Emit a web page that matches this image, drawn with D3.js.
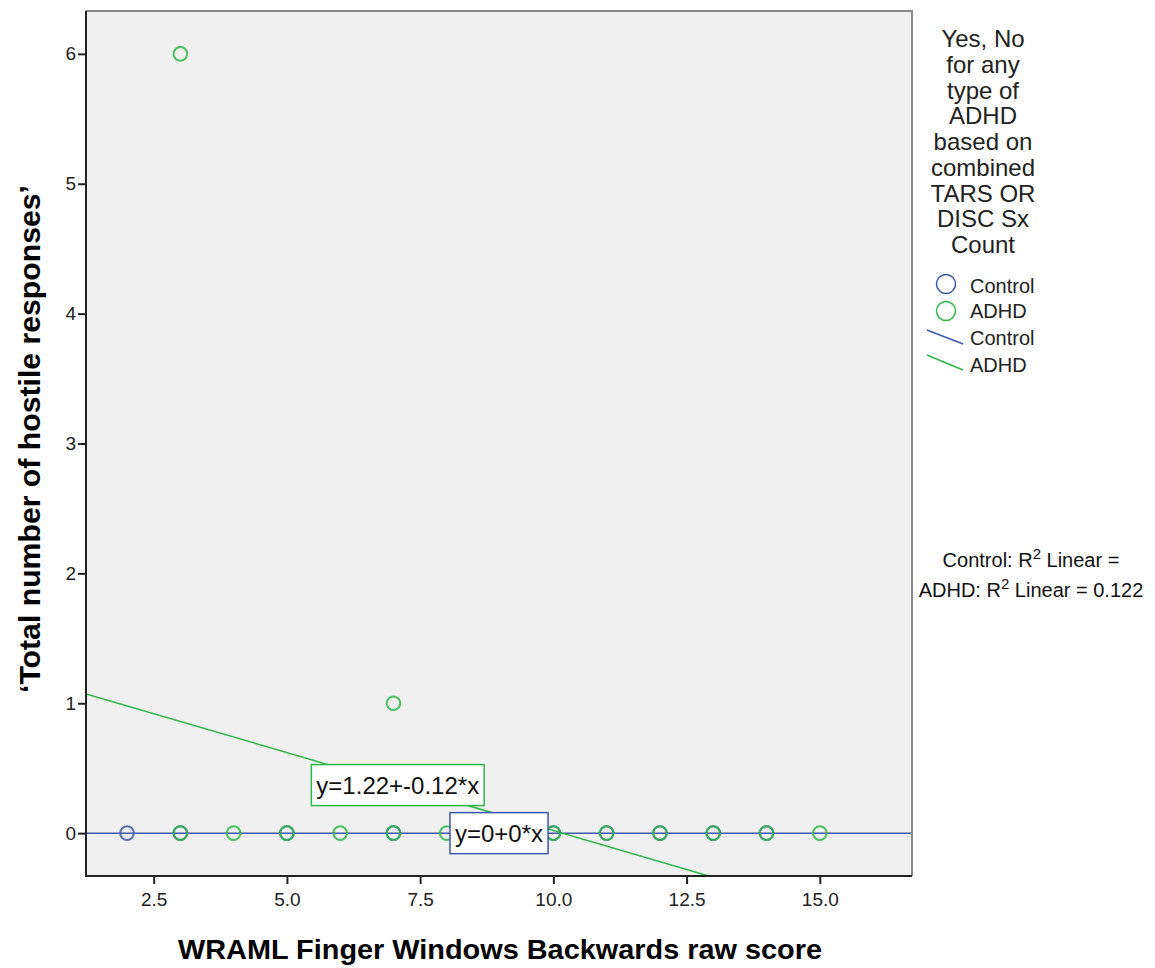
<!DOCTYPE html>
<html>
<head>
<meta charset="utf-8">
<script src="https://cdn.jsdelivr.net/npm/d3@7"></script>
<style>
  body { margin: 0; background: #fff; }
  text { font-family: "Liberation Sans", Arial, sans-serif; }
</style>
</head>
<body>
<svg class="scatter" width="1155" height="968"></svg>
<script>
// data
const controlX = [2, 3, 5, 7, 10, 11, 12, 13, 14];
const controlY = [0, 0, 0, 0, 0, 0, 0, 0, 0];
const adhdX = [3, 3, 4, 5, 6, 7, 7, 8, 10, 11, 12, 13, 14, 15];
const adhdY = [6, 0, 0, 0, 0, 1, 0, 0, 0, 0, 0, 0, 0, 0];
const fits = [
  {name: "Control", a: 0, b: 0, label: "y=0+0*x", lx: 8.98, ly: 0},
  {name: "ADHD", a: 1.22, b: -0.12, label: "y=1.22+-0.12*x", lx: 7.08, ly: 0.37}
];
const xTicks = [2.5, 5.0, 7.5, 10.0, 12.5, 15.0];
const yTicks = [0, 1, 2, 3, 4, 5, 6];
const legendTitle = ["Yes, No", "for any", "type of", "ADHD", "based on", "combined", "TARS OR", "DISC Sx", "Count"];
const colors = {Control: "#3e58ac", ADHD: "#2eb848"};

(function scatterIIFE() {
  const svg = d3.select("svg.scatter"),
      margin = {top: 11, left: 86},
      width = 826,
      height = 865,
      g = svg.append("g").attr("transform", "translate(" + margin.left + "," + margin.top + ")");

  const x = d3.scaleLinear().domain([1.23, 16.73]).range([0, width]);
  const y = d3.scaleLinear().domain([-0.33, 6.33]).range([height, 0]);

  g.append("rect")
    .attr("width", width).attr("height", height)
    .attr("fill", "#f0f0f0");

  g.append("clipPath").attr("id", "clip")
    .append("rect").attr("width", width).attr("height", height);

  // axes
  const xAxis = g.append("g")
    .attr("transform", "translate(0," + height + ")")
    .call(d3.axisBottom(x).tickValues(xTicks).tickFormat(d3.format(".1f")).tickSizeOuter(0).tickSize(8));
  const yAxis = g.append("g")
    .call(d3.axisLeft(y).tickValues(yTicks).tickFormat(d3.format("d")).tickSizeOuter(0).tickSize(8));
  [xAxis, yAxis].forEach(function(ax) {
    ax.select(".domain").remove();
    ax.selectAll("line").attr("stroke", "#222").attr("stroke-width", 2);
    ax.selectAll("text").attr("font-size", 19).attr("fill", "#222")
      .style("font-family", "Liberation Sans, Arial, sans-serif");
  });
  xAxis.selectAll("text").attr("y", 12).attr("dy", "0.95em");
  yAxis.selectAll("text").attr("x", -10);

  // fit lines
  const plot = g.append("g").attr("clip-path", "url(#clip)");
  fits.forEach(function(f) {
    const xs = x.domain();
    plot.append("line")
      .attr("x1", x(xs[0])).attr("y1", y(f.a + f.b * xs[0]))
      .attr("x2", x(xs[1])).attr("y2", y(f.a + f.b * xs[1]))
      .attr("stroke", colors[f.name]).attr("stroke-width", 1.5);
  });

  // points
  function drawPoints(xs, ys, c) {
    plot.selectAll(null).data(xs).enter().append("circle")
      .attr("cx", function(d) { return x(d); })
      .attr("cy", function(d, i) { return y(ys[i]); })
      .attr("r", 6.8)
      .attr("fill", "none")
      .attr("stroke", c)
      .attr("stroke-opacity", 0.85)
      .attr("stroke-width", 2);
  }
  drawPoints(controlX, controlY, colors.Control);
  drawPoints(adhdX, adhdY, colors.ADHD);

  // fit labels
  fits.forEach(function(f) {
    const lab = g.append("g").attr("transform", "translate(" + x(f.lx) + "," + y(f.ly) + ")");
    const t = lab.append("text")
      .attr("text-anchor", "middle").attr("dy", "0.36em")
      .attr("font-size", 24).attr("fill", "#111")
      .text(f.label);
    const bb = t.node().getBBox();
    lab.insert("rect", "text")
      .attr("x", bb.x - 5).attr("y", -20.5)
      .attr("width", bb.width + 10).attr("height", 41)
      .attr("fill", "#fff")
      .attr("stroke", colors[f.name]).attr("stroke-width", 1.5);
  });

  // frame
  g.append("path")
    .attr("d", "M0,0H" + width + "V" + height)
    .attr("fill", "none").attr("stroke", "#888").attr("stroke-width", 2);
  g.append("path")
    .attr("d", "M0,0V" + height + "H" + width)
    .attr("fill", "none").attr("stroke", "#222").attr("stroke-width", 2);

  // axis titles
  svg.append("text")
    .attr("x", 500).attr("y", 959)
    .attr("text-anchor", "middle")
    .attr("font-size", 28).attr("font-weight", "bold")
    .attr("textLength", 644).attr("lengthAdjust", "spacingAndGlyphs")
    .text("WRAML Finger Windows Backwards raw score");
  svg.append("text")
    .attr("transform", "translate(40,439) rotate(-90)")
    .attr("text-anchor", "middle")
    .attr("font-size", 29).attr("font-weight", "bold")
    .attr("textLength", 508).attr("lengthAdjust", "spacingAndGlyphs")
    .text("\u2018Total number of hostile responses\u2019");

  // legend
  const leg = svg.append("g");
  legendTitle.forEach(function(l, i) {
    leg.append("text")
      .attr("x", 983).attr("y", 47 + i * 25.75)
      .attr("text-anchor", "middle")
      .attr("font-size", 24).attr("fill", "#222")
      .text(l);
  });
  ["Control", "ADHD"].forEach(function(n, i) {
    leg.append("circle")
      .attr("cx", 946).attr("cy", 284 + i * 27).attr("r", 9.5)
      .attr("fill", "none").attr("stroke", colors[n]).attr("stroke-width", 1.5);
    leg.append("text")
      .attr("x", 970).attr("y", 293 + i * 25)
      .attr("font-size", 20).attr("fill", "#222").text(n);
  });
  ["Control", "ADHD"].forEach(function(n, i) {
    leg.append("line")
      .attr("x1", 927).attr("y1", 330 + i * 25)
      .attr("x2", 963).attr("y2", 344 + i * 26)
      .attr("stroke", colors[n]).attr("stroke-width", 1.5);
    leg.append("text")
      .attr("x", 970).attr("y", 345 + i * 27)
      .attr("font-size", 20).attr("fill", "#222").text(n);
  });

  // R squared
  const r2 = [["Control: R", " Linear = "], ["ADHD: R", " Linear = 0.122"]];
  r2.forEach(function(r, i) {
    const t = svg.append("text")
      .attr("x", 1031).attr("y", 567 + i * 30)
      .attr("text-anchor", "middle")
      .attr("font-size", 20).attr("fill", "#111");
    t.append("tspan").text(r[0]);
    t.append("tspan").attr("dy", -8).attr("font-size", 15).text("2");
    t.append("tspan").attr("dy", 8).text(r[1]);
  });
})();
</script>
</body>
</html>
